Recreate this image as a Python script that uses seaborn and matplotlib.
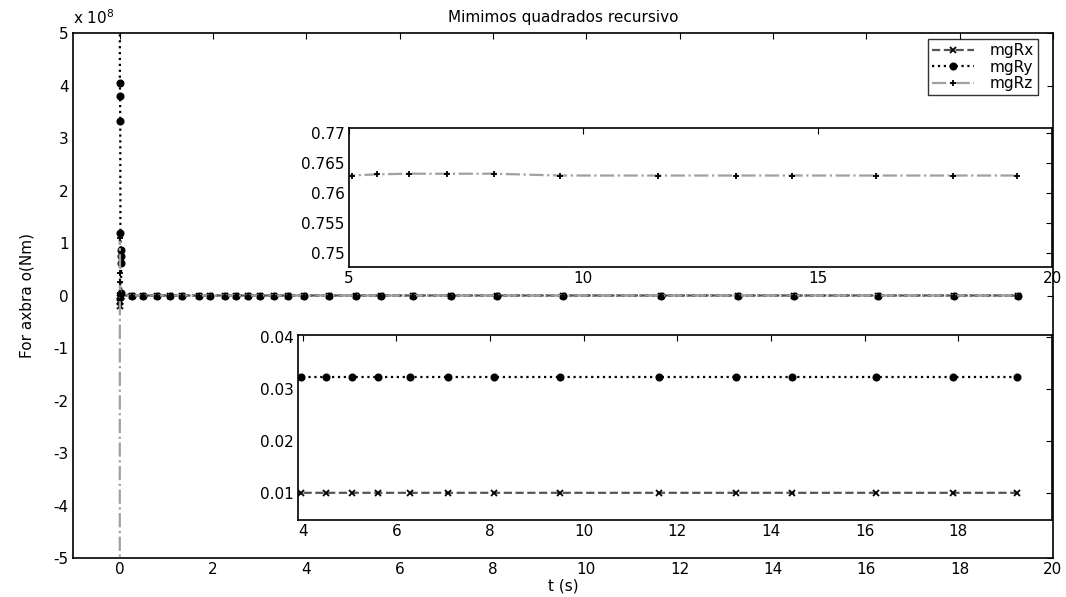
import matplotlib
matplotlib.use('Agg')
import matplotlib.pyplot as plt
from matplotlib.ticker import FuncFormatter
import seaborn as sns

# time samples (s)
t = [0.0, 0.004, 0.008, 0.012, 0.016, 0.020, 0.024, 0.028, 0.032,
     0.26, 0.51, 0.79, 1.07, 1.33, 1.71, 1.93, 2.25, 2.5, 2.75, 3.0,
     3.3, 3.6, 3.96, 4.49, 5.06, 5.60, 6.29, 7.10, 8.09, 9.5, 11.6,
     13.26, 14.46, 16.24, 17.88, 19.25]

n_steady = len(t) - 9

mgRx = [0.0, -0.1e8, -0.2e8, -0.12e8, -0.05e8, -0.02e8, 0.0, 0.0, 0.0] + [0.0101] * n_steady
mgRy = [9e8, 4.05e8, 3.8e8, 3.33e8, 1.19e8, 0.87e8, 0.75e8, 0.62e8, 0.05e8] + [0.0322] * n_steady
mgRz = [-9e8, 1.1e8, 0.43e8, 0.26e8, 0.05e8, 0.01e8, 0.0, 0.0, 0.0] + \
       [0.7628, 0.7628, 0.7628, 0.7628, 0.7628, 0.7628, 0.7628, 0.7628,
        0.7628, 0.7628, 0.7628, 0.7628, 0.7628, 0.7628, 0.7628, 0.7629,
        0.7631, 0.7632, 0.7632, 0.7632, 0.7629, 0.7629, 0.7629, 0.7629,
        0.7629, 0.7629, 0.7629]

series = [
    ('mgRx', mgRx, '#555555', '--', 'x'),
    ('mgRy', mgRy, '#000000', ':', 'o'),
    ('mgRz', mgRz, '#a0a0a0', '-.', '+'),
]

FS = 11

sns.set_style('white')
plt.rcParams['font.family'] = ['DejaVu Sans']
plt.rcParams['font.size'] = FS
plt.rcParams['text.color'] = 'k'
plt.rcParams['axes.labelcolor'] = 'k'
plt.rcParams['xtick.color'] = 'k'
plt.rcParams['ytick.color'] = 'k'

fig = plt.figure(figsize=(10.66, 5.97), dpi=100)


def draw(ax, label=True):
    for name, vals, color, ls, mk in series:
        sns.lineplot(x=t, y=vals, ax=ax, sort=False, estimator=None,
                     color=color, linestyle=ls, linewidth=1.6,
                     marker=mk, markersize=4.5, markeredgecolor='k',
                     markerfacecolor='k', markeredgewidth=1.3,
                     label=name if label else None)


def style(ax):
    ax.tick_params(direction='in', top=True, right=True, length=4,
                   width=0.8, labelsize=FS, pad=3, colors='k')
    for s in ax.spines.values():
        s.set_linewidth(1.2)
        s.set_color('k')


# main axes
ax = fig.add_axes([0.0685, 0.0653, 0.9193, 0.8794])
draw(ax)
ax.set_xlim(-1, 20)
ax.set_ylim(-5e8, 5e8)
ax.set_xticks(range(0, 21, 2))
ax.set_yticks([i * 1e8 for i in range(-5, 6)])
ax.yaxis.set_major_formatter(FuncFormatter(lambda v, p: f'{v / 1e8:g}'))
style(ax)
ax.set_title('Mimimos quadrados recursivo', fontsize=FS, pad=8, color='k')
ax.set_xlabel('t (s)', fontsize=FS, labelpad=1)
ax.set_ylabel('For axbra o(Nm)', fontsize=FS, labelpad=14)
ax.text(0.0, 1.012, r'x 10$^{8}$', transform=ax.transAxes, fontsize=FS,
        ha='left', va='bottom')
leg = ax.legend(loc='upper right', bbox_to_anchor=(0.989, 0.997),
                frameon=True, fancybox=False, handlelength=2.8,
                handletextpad=1.0, borderpad=0.25, labelspacing=0.1,
                borderaxespad=0.3, fontsize=FS)
leg.get_frame().set_edgecolor('k')
leg.get_frame().set_linewidth(1.0)

# upper inset: mgRz
ax1 = fig.add_axes([0.3274, 0.5528, 0.6595, 0.2328])
draw(ax1, label=False)
ax1.set_xlim(5, 20)
ax1.set_ylim(0.7477, 0.7708)
ax1.set_xticks([5, 10, 15, 20])
ax1.set_yticks([0.75, 0.755, 0.76, 0.765, 0.77])
ax1.yaxis.set_major_formatter(FuncFormatter(lambda v, p: f'{v:g}'))
ax1.set_facecolor('white')
style(ax1)

# lower inset: mgRx, mgRy
ax2 = fig.add_axes([0.2795, 0.1290, 0.7073, 0.3099])
draw(ax2, label=False)
ax2.set_xlim(3.9, 20)
ax2.set_ylim(0.0049, 0.0403)
ax2.set_xticks(range(4, 20, 2))
ax2.set_yticks([0.01, 0.02, 0.03, 0.04])
ax2.yaxis.set_major_formatter(FuncFormatter(lambda v, p: f'{v:g}'))
ax2.set_facecolor('white')
style(ax2)

fig.savefig('out.png', dpi=100)
plt.close(fig)
